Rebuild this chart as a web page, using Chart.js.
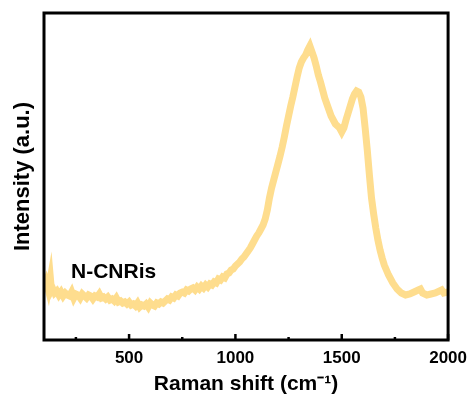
<!DOCTYPE html>
<html>
<head>
<meta charset="utf-8">
<script src="https://cdn.jsdelivr.net/npm/chart.js@4/dist/chart.umd.min.js"></script>
<style>
  html, body { margin: 0; padding: 0; background: #fff; }
  #wrap { width: 475px; height: 397px; }
</style>
</head>
<body>
<div id="wrap"><canvas id="raman"></canvas></div>
<script>
// Raman shift (cm-1) and intensity (arbitrary units)
const shifts = [
  100, 110, 120, 130, 135, 140, 150, 160, 170, 180, 190, 200, 210, 220, 230, 240, 250, 260, 270, 280,
  290, 300, 310, 320, 330, 340, 350, 360, 370, 380, 390, 400, 410, 420, 430, 440, 450, 460, 470, 480,
  490, 500, 510, 520, 530, 540, 550, 560, 570, 580, 590, 600, 610, 620, 630, 640, 650, 660, 670, 680,
  690, 700, 710, 720, 730, 740, 750, 760, 770, 780, 790, 800, 810, 820, 830, 840, 850, 860, 870, 880,
  890, 900, 910, 920, 930, 940, 950, 960, 970, 980, 990, 1000, 1010, 1020, 1030, 1040, 1050, 1060, 1070, 1080,
  1090, 1100, 1110, 1120, 1130, 1140, 1150, 1160, 1170, 1180, 1190, 1200, 1210, 1220, 1230, 1240, 1250, 1260, 1270, 1280,
  1290, 1300, 1310, 1320, 1330, 1340, 1350, 1355, 1360, 1370, 1380, 1390, 1400, 1410, 1420, 1430, 1440, 1450, 1460, 1470,
  1480, 1490, 1500, 1510, 1520, 1530, 1540, 1550, 1560, 1570, 1580, 1590, 1600, 1610, 1620, 1630, 1640, 1650, 1660, 1670,
  1680, 1690, 1700, 1720, 1740, 1760, 1780, 1800, 1820, 1840, 1860, 1870, 1880, 1900, 1920, 1940, 1960, 1970, 1980, 2000
];
const intensity = [
  52, 58, 50, 62, 50, 52, 47, 49, 45, 48, 44, 47, 45, 44, 48, 42, 46, 45, 42, 46,
  44, 42, 45, 44, 41, 44, 43, 46, 42, 43, 41, 43, 40, 41, 39, 42, 38, 39, 37, 38,
  36, 38, 35, 36, 34, 37, 33, 35, 34, 36, 33, 37, 35, 34, 37, 36, 38, 37, 39, 41,
  40, 43, 42, 45, 44, 47, 48, 47, 50, 49, 51, 52, 50, 53, 51, 54, 52, 55, 53, 56,
  55, 58, 57, 61, 60, 63, 62, 66, 67, 70, 71, 74, 76, 78, 81, 83, 86, 89, 92, 96,
  100, 104, 107, 111, 115, 121, 130, 142, 152, 160, 168, 176, 184, 193, 203, 214, 224, 234, 243, 253,
  263, 272, 278, 282, 285, 290, 294, 291, 288, 282, 274, 265, 258, 250, 242, 236, 230, 224, 220, 216,
  214, 212, 208, 212, 220, 227, 234, 241, 246, 249, 248, 243, 232, 212, 190, 165, 142, 126, 112, 100,
  90, 82, 75, 65, 57, 51, 47, 45, 46, 48, 50, 51, 47, 45, 46, 47, 49, 50, 47, 48
];
const majorTicks = [500, 1000, 1500, 2000];
const minorTicks = [250, 750, 1250, 1750];
const sampleName = 'N-CNRis';

const font = "'Liberation Sans', Arial, sans-serif";

const framePlugin = {
  id: 'frame',
  afterDraw(chart) {
    const ctx = chart.ctx;
    const a = chart.chartArea;
    const x = chart.scales.x;
    const y = chart.scales.y;
    ctx.save();
    // inward ticks
    ctx.strokeStyle = '#000';
    ctx.lineWidth = 2.5;
    majorTicks.forEach(v => {
      const px = x.getPixelForValue(v);
      ctx.beginPath(); ctx.moveTo(px, a.bottom); ctx.lineTo(px, a.bottom - 6); ctx.stroke();
    });
    minorTicks.forEach(v => {
      const px = x.getPixelForValue(v);
      ctx.beginPath(); ctx.moveTo(px, a.bottom); ctx.lineTo(px, a.bottom - 3); ctx.stroke();
    });
    // box
    ctx.lineWidth = 3;
    ctx.strokeRect(a.left, a.top, a.right - a.left, a.bottom - a.top);
    // sample label
    ctx.fillStyle = '#000';
    ctx.font = 'bold 21px ' + font;
    ctx.textBaseline = 'middle';
    ctx.fillText(sampleName, x.getPixelForValue(227), y.getPixelForValue(68));
    ctx.restore();
  }
};

new Chart(document.getElementById('raman'), {
  type: 'line',
  data: {
    datasets: [{
      data: shifts.map((s, i) => ({ x: s, y: intensity[i] })),
      borderColor: '#fedd8e',
      borderWidth: 7,
      pointRadius: 0,
      tension: 0,
      fill: false
    }]
  },
  options: {
    responsive: true,
    maintainAspectRatio: false,
    animation: false,
    layout: { padding: { top: 13, right: 24, left: 0, bottom: 0 } },
    plugins: { legend: { display: false }, tooltip: { enabled: false } },
    scales: {
      x: {
        type: 'linear',
        min: 100,
        max: 2000,
        afterBuildTicks(scale) { scale.ticks = majorTicks.map(v => ({ value: v })); },
        afterFit(scale) { scale.height = 57; },
        grid: { display: false, drawTicks: false },
        border: { display: false },
        ticks: {
          padding: 8,
          color: '#000',
          font: { family: font, size: 17, weight: 'bold' },
          maxRotation: 0,
          callback: v => String(v)
        },
        title: {
          display: true,
          text: 'Raman shift (cm\u207B\u00B9)',
          color: '#000',
          font: { family: font, size: 21, weight: 'bold' },
          padding: { top: 0, bottom: 0 }
        }
      },
      y: {
        min: 0,
        max: 327,
        afterFit(scale) { scale.width = 44; },
        grid: { display: false, drawTicks: false },
        border: { display: false },
        ticks: { display: false },
        title: {
          display: true,
          text: 'Intensity (a.u.)',
          color: '#000',
          font: { family: font, size: 22, weight: 'bold' },
          padding: { top: 10, bottom: 0 }
        }
      }
    }
  },
  plugins: [framePlugin]
});
</script>
</body>
</html>
